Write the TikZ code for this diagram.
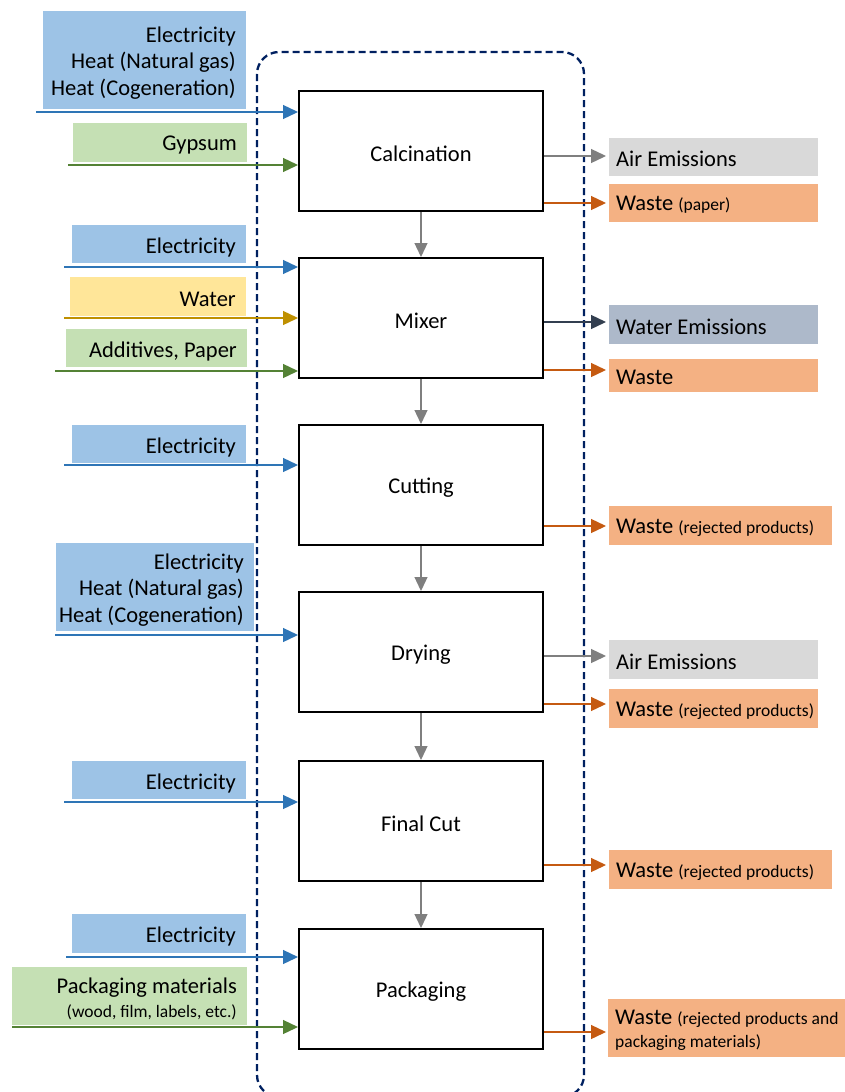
\documentclass[tikz,border=0pt]{standalone}
\usepackage{fontspec}
\setmainfont{Carlito}
\usetikzlibrary{arrows.meta}
\definecolor{fblue}{HTML}{9DC3E6}
\definecolor{fgreen}{HTML}{C5E0B4}
\definecolor{fyellow}{HTML}{FFE699}
\definecolor{fgray}{HTML}{D9D9D9}
\definecolor{fslate}{HTML}{ADB9CA}
\definecolor{forange}{HTML}{F4B183}
\definecolor{ablue}{HTML}{2E75B6}
\definecolor{agreen}{HTML}{548235}
\definecolor{agold}{HTML}{BF9000}
\definecolor{agray}{HTML}{7F7F7F}
\definecolor{aslate}{HTML}{333F50}
\definecolor{aorange}{HTML}{C55A11}
\definecolor{navy}{HTML}{002060}
\newcommand{\sm}{\fontsize{17.5}{21}\selectfont}
\tikzset{
  proc/.style={draw=black, line width=2pt, minimum width=244pt, minimum height=120pt, inner sep=0pt, font=\fontsize{22.5}{26.5}\selectfont},
  inlbl/.style={anchor=east, inner xsep=10pt, inner ysep=0pt, yshift=-3pt, align=right, font=\fontsize{22.5}{26.5}\selectfont},
  outlbl/.style={anchor=west, inner xsep=7pt, inner ysep=0pt, yshift=-2pt, align=left, font=\fontsize{22.5}{23}\selectfont},
  arr/.style={line width=1.3pt, -{Triangle[length=15pt,width=14pt]}},
  darr/.style={draw=agray, fill=agray, line width=1.3pt, -{Triangle[length=14pt,width=13pt]}},
}
% #1 name, #2 fill, #3 x1, #4 y1, #5 x2, #6 y2, #7 text
\newcommand{\inbox}[7]{\fill[#2] (#3,#4) rectangle (#5,#6);
  \node[inlbl] (#1) at (#5,{(#4+#6)/2}) {#7};}
\newcommand{\outbox}[7]{\fill[#2] (#3,#4) rectangle (#5,#6);
  \node[outlbl] (#1) at (#3,{(#4+#6)/2}) {#7};}
\newcommand{\dn}[1]{\raisebox{-2.5pt}[\height][\depth]{#1}}
\begin{document}
\begin{tikzpicture}[x=1pt,y=-1pt]
\useasboundingbox (0,0) rectangle (845,1092);
% dashed boundary
\begin{scope}
\clip (0,0) rectangle (845,1092);
\draw[navy, line width=2.3pt, dash pattern=on 7pt off 4pt, rounded corners=22pt] (257,52) rectangle (584,1097);
\end{scope}
% process boxes
\node[proc] (calc) at (421,151) {\dn{Calcination}};
\node[proc] (mix)  at (421,318) {\dn{Mixer}};
\node[proc] (cut)  at (421,485) {\dn{Cutting}};
\node[proc] (dry)  at (421,652) {\dn{Drying}};
\node[proc] (fcut) at (421,821) {\dn{Final Cut}};
\node[proc] (pack) at (421,989) {\dn{Packaging}};
\draw[darr] (calc.south) -- (mix.north);
\draw[darr] (mix.south) -- (cut.north);
\draw[darr] (cut.south) -- (dry.north);
\draw[darr] (dry.south) -- (fcut.north);
\draw[darr] (fcut.south) -- (pack.north);
% input labels
\inbox{i1}{fblue}{43}{11}{246}{109}{Electricity\\Heat (Natural gas)\\Heat (Cogeneration)}
\inbox{i2}{fgreen}{73}{123}{247}{162}{Gypsum}
\inbox{i3}{fblue}{72}{225}{246}{263}{Electricity}
\inbox{i4}{fyellow}{70}{277}{246}{316}{Water}
\inbox{i5}{fgreen}{66}{329}{247}{367}{Additives, Paper}
\inbox{i6}{fblue}{72}{425}{246}{463}{Electricity}
\inbox{i7}{fblue}{56}{543}{254}{631}{Electricity\\Heat (Natural gas)\\Heat (Cogeneration)}
\inbox{i8}{fblue}{72}{761}{246}{799}{Electricity}
\inbox{i9}{fblue}{72}{914}{246}{953}{Electricity}
\inbox{i10}{fgreen}{12}{967}{247}{1025}{Packaging materials\\[-2pt]{\sm (wood, film, labels, etc.)}}
% input arrow starts
\coordinate (s1) at (36,112);
\coordinate (s2) at (68,165);
\coordinate (s3) at (64,267);
\coordinate (s4) at (64,318);
\coordinate (s5) at (55,371);
\coordinate (s6) at (64,465);
\coordinate (s7) at (55,635);
\coordinate (s8) at (64,802);
\coordinate (s9) at (66,957);
\coordinate (s10) at (12,1027);
\draw[arr, ablue] (s1) -- (s1 -| calc.west);
\draw[arr, agreen] (s2) -- (s2 -| calc.west);
\draw[arr, ablue] (s3) -- (s3 -| mix.west);
\draw[arr, agold] (s4) -- (s4 -| mix.west);
\draw[arr, agreen] (s5) -- (s5 -| mix.west);
\draw[arr, ablue] (s6) -- (s6 -| cut.west);
\draw[arr, ablue] (s7) -- (s7 -| dry.west);
\draw[arr, ablue] (s8) -- (s8 -| fcut.west);
\draw[arr, ablue] (s9) -- (s9 -| pack.west);
\draw[arr, agreen] (s10) -- (s10 -| pack.west);
% output labels
\outbox{o1}{fgray}{609}{138}{818}{176}{Air Emissions}
\outbox{o2}{forange}{609}{184}{818}{222}{Waste {\sm (paper)}}
\outbox{o3}{fslate}{609}{305}{818}{344}{Water Emissions}
\outbox{o4}{forange}{609}{359}{818}{392}{Waste}
\outbox{o5}{forange}{609}{506}{832}{545}{Waste {\sm (rejected products)}}
\outbox{o6}{fgray}{609}{640}{818}{679}{Air Emissions}
\outbox{o7}{forange}{609}{689}{818}{728}{Waste {\sm (rejected products)}}
\outbox{o8}{forange}{609}{850}{832}{889}{Waste {\sm (rejected products)}}
\outbox{o9}{forange}{608}{999}{845}{1057}{Waste {\sm (rejected products and}\\{\sm packaging materials)}}
\coordinate (e1) at (606,156);
\coordinate (e2) at (606,203);
\coordinate (e3) at (606,322);
\coordinate (e4) at (606,370);
\coordinate (e5) at (606,526);
\coordinate (e6) at (606,656);
\coordinate (e7) at (606,704);
\coordinate (e8) at (606,865);
\coordinate (e9) at (606,1032);
\draw[arr, agray] (e1 -| calc.east) -- (e1);
\draw[arr, aorange] (e2 -| calc.east) -- (e2);
\draw[arr, aslate] (e3 -| mix.east) -- (e3);
\draw[arr, aorange] (e4 -| mix.east) -- (e4);
\draw[arr, aorange] (e5 -| cut.east) -- (e5);
\draw[arr, agray] (e6 -| dry.east) -- (e6);
\draw[arr, aorange] (e7 -| dry.east) -- (e7);
\draw[arr, aorange] (e8 -| fcut.east) -- (e8);
\draw[arr, aorange] (e9 -| pack.east) -- (e9);
\end{tikzpicture}
\end{document}
